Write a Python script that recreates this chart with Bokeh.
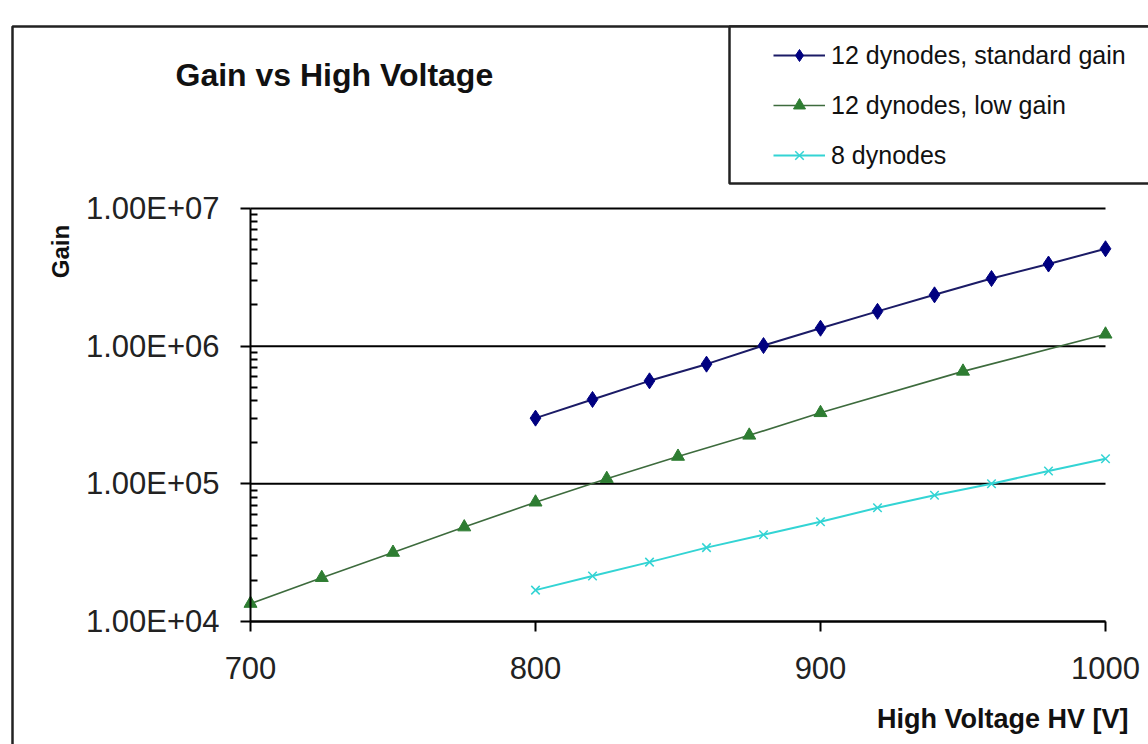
import math
from bokeh.plotting import figure
from bokeh.models import (Range1d, FixedTicker, Label, BoxAnnotation, Legend,
                          LegendItem, LinearAxis, LogAxis)
from bokeh.embed import file_html
from bokeh.resources import INLINE

# ---------------- data ----------------
std_hv = [800, 820, 840, 860, 880, 900, 920, 940, 960, 980, 1000]
std_gain = [3.0e5, 4.1e5, 5.6e5, 7.4e5, 1.01e6, 1.35e6, 1.79e6, 2.36e6,
            3.1e6, 3.95e6, 5.1e6]

low_hv = [700, 725, 750, 775, 800, 825, 850, 875, 900, 950, 1000]
low_gain = [1.35e4, 2.08e4, 3.17e4, 4.85e4, 7.35e4, 1.09e5, 1.58e5, 2.25e5,
            3.28e5, 6.56e5, 1.22e6]

d8_hv = [800, 820, 840, 860, 880, 900, 920, 940, 960, 980, 1000]
d8_gain = [1.69e4, 2.14e4, 2.7e4, 3.44e4, 4.27e4, 5.3e4, 6.7e4, 8.25e4,
           1.0e5, 1.24e5, 1.52e5]

series_names = ["12 dynodes, standard gain", "12 dynodes, low gain", "8 dynodes"]

x_ticks = [700, 800, 900, 1000]
x_tick_labels = ["700", "800", "900", "1000"]
y_ticks = [10000, 100000, 1000000, 10000000]
y_tick_labels = ["1.00E+04", "1.00E+05", "1.00E+06", "1.00E+07"]

title_text = "Gain vs High Voltage"
x_title = "High Voltage HV [V]"
y_title = "Gain"

FONT = "Liberation Sans"

# ---------------- layout (pixels) ----------------
W, H = 1148, 744
AX_L, AX_R = 250, 1105      # pixel columns of x=700 and x=1000
AX_T, AX_B = 208, 621       # pixel rows of y=1e7 and y=1e4

xmin, xmax = x_ticks[0], x_ticks[-1]
ppx = (AX_R - AX_L) / (xmax - xmin)
ymin, ymax = y_ticks[0], y_ticks[-1]
ppd = (AX_B - AX_T) / (math.log10(ymax) - math.log10(ymin))

x_range = Range1d(xmin - AX_L / ppx, xmax + (W - AX_R) / ppx)
y_range = Range1d(10 ** (math.log10(ymin) - (H - AX_B) / ppd),
                  10 ** (math.log10(ymax) + AX_T / ppd))

p = figure(width=W, height=H, x_range=x_range, y_range=y_range,
           y_axis_type="log", x_axis_location=None, y_axis_location=None,
           min_border=0, output_backend="svg", toolbar_location=None,
           title=None)
p.outline_line_color = None
p.background_fill_color = "white"
p.border_fill_color = "white"
p.xgrid.visible = False
p.ygrid.visible = False

# ---------------- horizontal gridlines at the y ticks, x = 700..1000 ------
n = len(y_ticks)
p.segment(x0=[xmin] * n, x1=[xmax] * n, y0=y_ticks, y1=y_ticks,
          line_color="black", line_width=2)

# ---------------- axes ----------------
minor = [m * t for t in y_ticks[:-1] for m in range(2, 10)]
yt = FixedTicker(ticks=y_ticks, minor_ticks=minor)
yaxis = LogAxis(ticker=yt, fixed_location=xmin, bounds=(ymin, ymax),
                major_label_overrides=dict(zip(y_ticks, y_tick_labels)),
                axis_line_color="black", axis_line_width=2,
                major_tick_line_color="black", major_tick_line_width=2,
                major_tick_out=10, major_tick_in=0,
                minor_tick_line_color="black", minor_tick_line_width=2,
                minor_tick_in=7, minor_tick_out=0,
                major_label_text_font=FONT, major_label_text_font_size="31px",
                major_label_text_color="#222222", major_label_standoff=21)
p.add_layout(yaxis, "left")

xt = FixedTicker(ticks=x_ticks, minor_ticks=[])
xaxis = LinearAxis(ticker=xt, fixed_location=ymin, bounds=(xmin, xmax),
                   major_label_overrides=dict(zip(x_ticks, x_tick_labels)),
                   axis_line_color="black", axis_line_width=2,
                   major_tick_line_color="black", major_tick_line_width=2,
                   major_tick_out=10, major_tick_in=0,
                   minor_tick_line_color=None,
                   major_label_text_font=FONT, major_label_text_font_size="31px",
                   major_label_text_color="#222222", major_label_standoff=25)
p.add_layout(xaxis, "below")

# ---------------- series ----------------
l1 = p.line(std_hv, std_gain, line_color="#1b1b66", line_width=2)
m1 = p.scatter(std_hv, std_gain, marker="diamond", size=16,
               fill_color="#000080", line_color="#000080")
l2 = p.line(low_hv, low_gain, line_color="#3d6b3d", line_width=1.6)
m2 = p.scatter(low_hv, low_gain, marker="triangle", size=13,
               fill_color="#2e7d32", line_color="#2e7d32")
l3 = p.line(d8_hv, d8_gain, line_color="#33d4d4", line_width=2)
m3 = p.scatter(d8_hv, d8_gain, marker="x", size=12,
               line_color="#33d4d4", line_width=1.5)

# ---------------- chart border & legend box (screen px from bottom-left) ----
chart_border = BoxAnnotation(left=12, right=W + 50, top=H - 26, bottom=-50,
                             left_units="screen", right_units="screen",
                             top_units="screen", bottom_units="screen",
                             fill_alpha=0, line_color="#222222",
                             line_alpha=1, line_width=2.5)
p.add_layout(chart_border)

legend_box = BoxAnnotation(left=729, right=W + 50, top=H - 26, bottom=H - 183,
                           left_units="screen", right_units="screen",
                           top_units="screen", bottom_units="screen",
                           fill_color="white", fill_alpha=1,
                           line_color="#222222", line_alpha=1, line_width=2.5)
p.add_layout(legend_box)

legend = Legend(items=[LegendItem(label=series_names[0], renderers=[l1, m1]),
                       LegendItem(label=series_names[1], renderers=[l2, m2]),
                       LegendItem(label=series_names[2], renderers=[l3, m3])],
                location=(773, H - 170), padding=0, margin=0, spacing=20,
                glyph_width=52, glyph_height=30, label_height=30,
                label_standoff=6, border_line_color=None,
                background_fill_alpha=0,
                label_text_font=FONT, label_text_font_size="25px",
                label_text_color="#111111")
p.add_layout(legend, "center")

# ---------------- titles ----------------
p.add_layout(Label(x=175, y=H - 74, x_units="screen", y_units="screen",
                   text=title_text, text_font=FONT, text_font_size="32px",
                   text_font_style="bold", text_color="#111111",
                   text_align="left", text_baseline="alphabetic"))
p.add_layout(Label(x=60, y=H - 251, x_units="screen", y_units="screen",
                   text=y_title, angle=math.pi / 2, text_font=FONT,
                   text_font_size="24px", text_font_style="bold",
                   text_color="#111111", text_align="center",
                   text_baseline="middle"))
p.add_layout(Label(x=1128, y=H - 718, x_units="screen", y_units="screen",
                   text=x_title, text_font=FONT, text_font_size="27px",
                   text_font_style="bold", text_color="#111111",
                   text_align="right", text_baseline="alphabetic"))

open("out.html", "w").write(file_html(p, INLINE))
